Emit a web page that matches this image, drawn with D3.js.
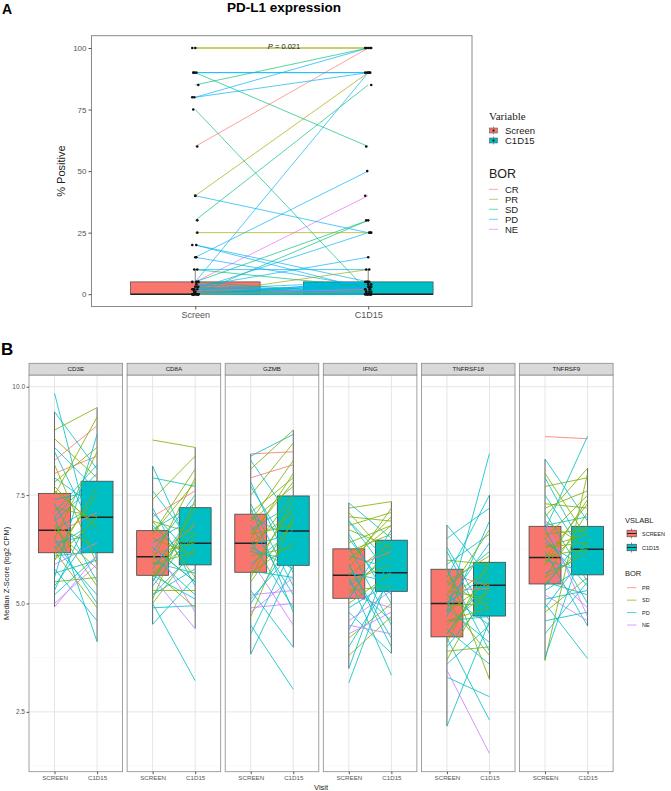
<!DOCTYPE html>
<html><head><meta charset="utf-8">
<script src="https://cdn.jsdelivr.net/npm/d3@7/dist/d3.min.js"></script>
<style>body{margin:0;background:#fff;}svg{display:block;font-family:"Liberation Sans",Arial,sans-serif;}</style>
</head><body>
<svg id="c" width="671" height="791"></svg>
<script>
// ---------------- Panel A data ----------------
const A_visits = ["Screen", "C1D15"];
const A_borLevels = ["CR", "PR", "SD", "PD", "NE"];
const A_yTicks = [0, 25, 50, 75, 100];
const A_screen = [100,100,85,80,60, 90,90,80,40,5, 90,30,75,15,5, 40,5,0,25,2, 20,20,15,3,10, 10,0,5,2,1, 0,0,3,0,0, 0,1,0,2,0, 0,0,0,0,0, 1,2,0,4,0, 3,0,1,0,2];
const A_c1d15  = [100,100,100,100,100, 90,90,90,90,90, 60,85,1,50,40, 25,30,30,25,25, 5,2,3,15,10, 3,10,0,5,0, 0,1,0,2,5, 0,0,3,1,4, 0,0,0,2,0, 1,0,5,0,2, 0,4,0,1,3];
const A_bor    = ["PR","PR","SD","PD","CR", "PD","PD","PD","PR","PD", "SD","SD","SD","PD","NE", "PD","SD","SD","PR","PD",
                  "PD","PD","PD","PD","PD", "SD","PR","SD","PD","NE", "PD","PD","PR","SD","PD", "PD","SD","PD","NE","PD",
                  "PD","SD","PD","PD","PD", "PD","SD","PD","PD","NE", "PD","SD","PD","PR","PD"];
const A_boxLow = [0, 0], A_boxQ1 = [0, 0], A_boxMed = [0, 0], A_boxQ3 = [5, 5], A_boxHigh = [10, 10];
const A_pText = "0.021";

// ---------------- Panel B data ----------------
const B_genes = ["CD3E", "CD8A", "GZMB", "IFNG", "TNFRSF18", "TNFRSF9"];
const B_visits = ["SCREEN", "C1D15"];
const B_borLevels = ["PR", "SD", "PD", "NE"];
const B_yTicks = [2.5, 5.0, 7.5, 10.0];
const B_minorTicks = [1.25, 3.75, 6.25, 8.75];
// box stats per gene: [low whisker, Q1, median, Q3, high whisker]
const B_boxScreen = [[4.92,6.17,6.69,7.54,9.42],[4.52,5.65,6.08,6.68,8.17],[3.83,5.72,6.39,7.06,8.45],[3.50,5.12,5.65,6.26,7.32],[2.17,4.23,5.00,5.79,6.81],[3.69,5.45,6.06,6.78,8.33]];
const B_boxC1D15  = [[4.12,6.17,6.99,7.82,9.52],[4.42,5.89,6.39,7.21,8.60],[3.99,5.88,6.67,7.48,9.00],[3.85,5.28,5.71,6.46,7.35],[3.25,4.71,5.42,5.95,7.50],[4.48,5.66,6.25,6.78,8.12]];

const B_CD3E_screen = [9.85,9.42,9.0,8.8,8.5,8.3,8.2,8.0,7.9,7.8,7.6,7.5,7.4,7.3,7.2,7.1,7.0,6.9,6.8,6.7,6.7,6.6,6.5,6.4,6.3,6.3,6.2,6.2,6.1,6.0,5.9,5.8,5.6,5.5,5.3,5.2,5.0,4.92, 7.7,7.0,6.5,6.0,5.7,8.6,6.8,5.4];
const B_CD3E_c1d15  = [6.0,8.1,9.52,7.9,6.5,9.1,5.9,8.4,7.2,8.6,6.8,9.3,7.6,5.5,7.0,8.2,4.12,7.8,6.3,7.3,5.8,7.1,8.5,6.6,6.9,5.2,7.5,4.9,6.2,7.7,6.4,4.6,8.9,5.6,7.4,6.1,5.9,6.1, 6.7,8.0,5.0,7.0,6.0,7.6,5.4,6.8];
const B_CD3E_bor    = ["PD","PD","SD","SD","PD","PR","SD","PR","PD","SD","SD","SD","PD","PD","SD","PD","PD","PD","SD","PD","SD","PR","SD","PD","PD","PD","SD","SD","PD","SD","NE","PD","PD","SD","PD","PD","NE","NE", "SD","PD","PD","SD","PD","PD","SD","PD"];

const B_CD8A_screen = [8.77,8.17,7.9,7.6,7.4,7.2,7.0,6.9,6.8,6.7,6.6,6.5,6.4,6.3,6.2,6.15,6.1,6.05,6.0,5.95,5.9,5.8,5.75,5.7,5.65,5.6,5.5,5.4,5.3,5.2,5.1,5.0,4.9,4.52,5.0,5.6, 7.1,6.6,6.3,5.9,5.5,6.9,5.2,6.4];
const B_CD8A_c1d15  = [8.6,6.0,7.7,6.3,8.4,5.4,7.6,6.6,5.9,7.3,8.1,6.1,7.0,5.5,7.5,6.4,5.2,6.8,7.9,5.7,6.2,7.1,4.9,6.5,5.1,6.9,7.2,6.7,5.3,5.8,7.4,3.22,4.95,5.6,6.3,4.42, 6.0,7.8,5.5,6.6,7.0,5.6,6.2,4.8];
const B_CD8A_bor    = ["SD","PD","PD","PD","SD","PD","PR","SD","PD","PD","SD","SD","PD","SD","PD","SD","PD","PR","SD","PD","SD","PD","SD","SD","PD","SD","SD","PD","SD","PD","SD","PD","PD","PD","SD","NE", "PD","SD","PD","SD","PD","SD","PD","NE"];

const B_GZMB_screen = [8.45,8.4,8.3,8.1,7.9,7.7,7.5,7.3,7.1,7.0,6.9,6.8,6.7,6.6,6.5,6.45,6.4,6.35,6.3,6.2,6.1,6.0,5.9,5.8,5.75,5.7,5.5,5.3,5.1,4.9,4.7,4.5,4.3,3.83,5.2, 7.8,6.9,6.2,5.6,5.0,7.2,4.8,6.6];
const B_GZMB_c1d15  = [8.5,8.9,6.9,9.0,8.2,6.1,8.7,5.4,7.9,6.5,7.7,5.2,7.3,6.8,8.0,4.9,7.1,6.6,5.8,7.5,6.3,4.5,6.7,7.2,5.6,6.4,6.9,3.99,6.2,5.0,7.0,3.02,6.3,5.9,5.3, 5.7,8.3,6.0,7.4,6.5,4.8,5.6,7.8];
const B_GZMB_bor    = ["PR","PD","PD","SD","PR","PD","SD","PD","SD","PD","SD","PD","PD","SD","SD","PD","SD","PD","PD","SD","SD","NE","PD","SD","PD","SD","SD","PD","PD","NE","SD","PD","PD","PD","NE", "PD","SD","PD","SD","PD","PD","NE","SD"];

const B_IFNG_screen = [7.32,7.2,7.1,7.0,6.9,6.8,6.7,6.5,6.4,6.3,6.2,6.1,6.0,5.9,5.8,5.7,5.65,5.6,5.5,5.4,5.3,5.2,5.1,5.0,4.8,4.6,4.4,4.2,4.0,3.8,3.5,3.17,4.5,5.9, 6.6,6.0,5.5,5.2,4.9,6.9,4.3,5.8];
const B_IFNG_c1d15  = [6.5,7.35,6.0,6.9,5.6,7.1,6.3,5.2,6.8,4.5,6.6,5.8,7.0,4.2,6.2,5.5,6.4,3.35,5.9,6.1,5.4,4.9,6.7,5.7,3.85,5.3,6.0,5.0,5.6,4.7,6.2,5.8,4.3,4.0, 5.0,6.8,4.6,6.3,5.5,5.9,4.8,7.2];
const B_IFNG_bor    = ["PD","SD","SD","SD","PD","SD","SD","PD","SD","PD","SD","PD","SD","PD","PR","PD","SD","PD","SD","PD","SD","NE","PD","SD","PD","NE","PD","SD","PD","SD","PD","PD","NE","PD", "PD","SD","PD","SD","PD","PD","NE","SD"];

const B_TNFRSF18_screen = [6.81,6.5,6.2,6.0,5.9,5.8,5.7,5.6,5.5,5.4,5.3,5.2,5.1,5.05,5.0,4.95,4.9,4.8,4.7,4.6,4.5,4.4,4.3,4.2,4.1,4.0,3.9,3.7,3.46,3.3,2.17,4.8,5.3, 6.3,5.5,5.0,4.6,4.3,5.8,3.6,5.2];
const B_TNFRSF18_c1d15  = [5.6,7.2,4.3,5.9,6.6,3.25,5.4,7.5,4.9,6.2,5.1,4.5,5.8,3.8,6.4,5.0,4.1,5.5,6.9,4.7,5.3,3.6,5.7,2.31,6.0,5.2,4.0,5.45,1.54,2.85,4.6,8.46,5.35, 4.6,6.1,5.7,4.9,5.6,3.9,4.5,6.7];
const B_TNFRSF18_bor    = ["PD","PD","PD","SD","PD","SD","PR","PD","SD","PD","SD","PD","SD","SD","PD","SD","PD","SD","PD","PD","SD","PD","SD","PD","SD","PD","SD","SD","NE","PD","PD","PD","PR", "PD","SD","PD","SD","PD","PD","PD","SD"];

const B_TNFRSF9_screen = [8.85,8.33,8.0,7.7,7.5,7.3,7.1,7.0,6.9,6.8,6.7,6.6,6.5,6.4,6.3,6.2,6.1,6.05,6.0,5.9,5.8,5.7,5.6,5.5,5.45,5.3,5.2,5.0,4.9,4.8,4.6,3.69,3.75,5.1,6.3,6.7, 7.9,7.2,6.5,5.9,5.4,4.3,6.9,5.6];
const B_TNFRSF9_c1d15  = [8.8,6.9,6.5,7.9,6.0,7.2,5.5,8.12,6.3,7.0,5.0,6.7,7.5,5.8,6.6,4.48,6.25,7.3,5.7,6.8,4.9,6.1,7.1,5.2,6.4,5.9,4.6,3.73,6.2,5.6,4.8,8.0,6.6,5.3,6.4,8.86, 6.1,7.6,5.4,7.4,6.7,5.5,4.7,6.2];
const B_TNFRSF9_bor    = ["PR","PD","SD","SD","PD","SD","PD","SD","SD","PD","PD","SD","SD","PD","SD","PD","SD","SD","PD","SD","NE","PD","SD","PD","SD","PD","NE","PD","PD","SD","PD","SD","PD","PD","SD","PD", "PD","SD","PD","SD","PD","PD","NE","SD"];

const B_lines = {
  CD3E: [B_CD3E_screen, B_CD3E_c1d15, B_CD3E_bor],
  CD8A: [B_CD8A_screen, B_CD8A_c1d15, B_CD8A_bor],
  GZMB: [B_GZMB_screen, B_GZMB_c1d15, B_GZMB_bor],
  IFNG: [B_IFNG_screen, B_IFNG_c1d15, B_IFNG_bor],
  TNFRSF18: [B_TNFRSF18_screen, B_TNFRSF18_c1d15, B_TNFRSF18_bor],
  TNFRSF9: [B_TNFRSF9_screen, B_TNFRSF9_c1d15, B_TNFRSF9_bor]
};

// ---------------- Drawing ----------------
const svg = d3.select("#c");
const boxFill = ["#F8766D", "#00BFC4"];
const A_col = d3.scaleOrdinal().domain(A_borLevels).range(["#F8766D","#A3A500","#00BF7D","#00B0F6","#E76BF3"]);
const B_col = d3.scaleOrdinal().domain(B_borLevels).range(["#F8766D","#7CAE00","#00BFC4","#C77CFF"]);

// ===== Panel A =====
const A = {l: 91.5, r: 472, t: 35.7, b: 306.5};
const ax = d3.scalePoint().domain(A_visits).range([A.l, A.r]).padding(0.6);
const ay = d3.scaleLinear().domain([-5, 105]).range([A.b, A.t]);
const aStep = ax.step();
const gA = svg.append("g");

svg.append("text").attr("x", 2).attr("y", 14).attr("font-size", 14).attr("font-weight", "bold").text("A");
svg.append("text").attr("x", 284).attr("y", 12).attr("text-anchor", "middle").attr("font-size", 13.5).attr("font-weight", "bold").text("PD-L1 expression");

gA.append("rect").attr("x", A.l).attr("y", A.t).attr("width", A.r - A.l).attr("height", A.b - A.t)
  .attr("fill", "none").attr("stroke", "#8a8a8a").attr("stroke-width", 1);

// y axis
const yAxA = gA.append("g").attr("transform", `translate(${A.l},0)`)
  .call(d3.axisLeft(ay).tickValues(A_yTicks).tickSize(3).tickPadding(2));
yAxA.select(".domain").remove();
yAxA.selectAll("line").attr("stroke", "#555");
yAxA.selectAll("text").attr("font-size", 8).attr("fill", "#555").attr("font-family", "Liberation Sans, Arial");
// x axis
const xAxA = gA.append("g").attr("transform", `translate(0,${A.b})`)
  .call(d3.axisBottom(ax).tickSize(3).tickPadding(2));
xAxA.select(".domain").remove();
xAxA.selectAll("line").attr("stroke", "#555");
xAxA.selectAll("text").attr("font-size", 9).attr("fill", "#555").attr("font-family", "Liberation Sans, Arial");

gA.append("text").attr("transform", `translate(65,${(A.t + A.b) / 2}) rotate(-90)`)
  .attr("text-anchor", "middle").attr("font-size", 11).attr("fill", "#222").text("% Positive");

// boxes A
A_visits.forEach((v, i) => {
  const cx = ax(v), w = aStep * 0.75;
  gA.append("line").attr("x1", cx).attr("x2", cx).attr("y1", ay(A_boxQ3[i])).attr("y2", ay(A_boxHigh[i])).attr("stroke", "#333").attr("stroke-width", 0.6);
  gA.append("line").attr("x1", cx).attr("x2", cx).attr("y1", ay(A_boxQ1[i])).attr("y2", ay(A_boxLow[i])).attr("stroke", "#333").attr("stroke-width", 0.6);
  gA.append("rect").attr("x", cx - w / 2).attr("y", ay(A_boxQ3[i])).attr("width", w)
    .attr("height", ay(A_boxQ1[i]) - ay(A_boxQ3[i])).attr("fill", boxFill[i]).attr("stroke", "#333").attr("stroke-width", 0.6);
  gA.append("line").attr("x1", cx - w / 2).attr("x2", cx + w / 2).attr("y1", ay(A_boxMed[i])).attr("y2", ay(A_boxMed[i])).attr("stroke", "#222").attr("stroke-width", 1.4);
});

// lines A
A_screen.forEach((s, i) => {
  gA.append("line").attr("x1", ax("Screen")).attr("y1", ay(s)).attr("x2", ax("C1D15")).attr("y2", ay(A_c1d15[i]))
    .attr("stroke", A_col(A_bor[i])).attr("stroke-width", 0.8).attr("stroke-opacity", 0.85);
});
// points A (small deterministic horizontal jitter)
A_screen.forEach((s, i) => {
  const j = ((i * 3) % 7 - 3) * 1.0;
  gA.append("circle").attr("cx", ax("Screen") + j).attr("cy", ay(s)).attr("r", 1.3).attr("fill", "#111");
  const j2 = ((i * 5) % 7 - 3) * 1.0;
  gA.append("circle").attr("cx", ax("C1D15") + j2).attr("cy", ay(A_c1d15[i])).attr("r", 1.3).attr("fill", "#111");
});

// p value
const pt = gA.append("text").attr("x", 284).attr("y", 49).attr("text-anchor", "middle").attr("font-size", 7.5).attr("fill", "#222");
pt.append("tspan").attr("font-style", "italic").text("P");
pt.append("tspan").text(" = " + A_pText);

// legend A
const lgA = svg.append("g");
lgA.append("text").attr("x", 489).attr("y", 119.5).attr("font-size", 11).attr("font-family", "Liberation Serif, serif").attr("fill", "#222").text("Variable");
A_visits.forEach((v, i) => {
  const y = 130.5 + i * 10;
  lgA.append("line").attr("x1", 493.5).attr("x2", 493.5).attr("y1", y - 4).attr("y2", y + 4).attr("stroke", "#444").attr("stroke-width", 0.5);
  lgA.append("rect").attr("x", 489.5).attr("y", y - 2.5).attr("width", 8).attr("height", 5).attr("fill", boxFill[i]).attr("stroke", "#444").attr("stroke-width", 0.5);
  lgA.append("circle").attr("cx", 493.5).attr("cy", y).attr("r", 1.1).attr("fill", "#111");
  lgA.append("text").attr("x", 505).attr("y", y + 3.5).attr("font-size", 9.5).attr("fill", "#222").text(v);
});
lgA.append("text").attr("x", 489).attr("y", 178).attr("font-size", 12.5).attr("fill", "#222").text("BOR");
A_borLevels.forEach((b, i) => {
  const y = 189.3 + i * 10;
  lgA.append("line").attr("x1", 489).attr("x2", 498).attr("y1", y).attr("y2", y).attr("stroke", A_col(b)).attr("stroke-width", 1).attr("stroke-opacity", 0.6);
  lgA.append("text").attr("x", 505).attr("y", y + 3.5).attr("font-size", 9.5).attr("fill", "#222").text(b);
});

// ===== Panel B =====
svg.append("text").attr("x", 1).attr("y", 354.5).attr("font-size", 17).attr("font-weight", "bold").text("B");
const B = {t: 375, b: 771.7, l0: 29, w: 93.6, step: 98.1, stripT: 363.3};
const by = d3.scaleLinear().domain([1.12, 10.27]).range([B.b, B.t]);

B_genes.forEach((g, gi) => {
  const left = B.l0 + gi * B.step, right = left + B.w;
  const bx = d3.scalePoint().domain(B_visits).range([left, right]).padding(0.6);
  const st = bx.step();
  const gB = svg.append("g");
  // grid
  B_minorTicks.forEach(t => gB.append("line").attr("x1", left).attr("x2", right).attr("y1", by(t)).attr("y2", by(t)).attr("stroke", "#f3f3f3").attr("stroke-width", 0.6));
  B_yTicks.forEach(t => gB.append("line").attr("x1", left).attr("x2", right).attr("y1", by(t)).attr("y2", by(t)).attr("stroke", "#e6e6e6").attr("stroke-width", 1));
  B_visits.forEach(v => gB.append("line").attr("x1", bx(v)).attr("x2", bx(v)).attr("y1", B.t).attr("y2", B.b).attr("stroke", "#e6e6e6").attr("stroke-width", 1));
  // boxes
  [B_boxScreen[gi], B_boxC1D15[gi]].forEach((st5, i) => {
    const cx = bx(B_visits[i]), w = st * 0.75;
    gB.append("line").attr("x1", cx).attr("x2", cx).attr("y1", by(st5[3])).attr("y2", by(st5[4])).attr("stroke", "#444").attr("stroke-width", 0.8);
    gB.append("line").attr("x1", cx).attr("x2", cx).attr("y1", by(st5[1])).attr("y2", by(st5[0])).attr("stroke", "#444").attr("stroke-width", 0.8);
    gB.append("rect").attr("x", cx - w / 2).attr("y", by(st5[3])).attr("width", w).attr("height", by(st5[1]) - by(st5[3]))
      .attr("fill", boxFill[i]).attr("stroke", "#444").attr("stroke-width", 0.8);
    gB.append("line").attr("x1", cx - w / 2).attr("x2", cx + w / 2).attr("y1", by(st5[2])).attr("y2", by(st5[2])).attr("stroke", "#222").attr("stroke-width", 1.5);
  });
  // patient lines
  const [s, c, b] = B_lines[g];
  s.forEach((v, i) => {
    gB.append("line").attr("x1", bx("SCREEN")).attr("y1", by(v)).attr("x2", bx("C1D15")).attr("y2", by(c[i]))
      .attr("stroke", B_col(b[i])).attr("stroke-width", 0.9).attr("stroke-opacity", 0.9);
  });
  // panel border
  gB.append("rect").attr("x", left).attr("y", B.t).attr("width", B.w).attr("height", B.b - B.t).attr("fill", "none").attr("stroke", "#8a8a8a").attr("stroke-width", 0.8);
  // strip
  gB.append("rect").attr("x", left).attr("y", B.stripT).attr("width", B.w).attr("height", B.t - B.stripT).attr("fill", "#d9d9d9").attr("stroke", "#8a8a8a").attr("stroke-width", 0.8);
  gB.append("text").attr("x", (left + right) / 2).attr("y", B.t - 3.6).attr("text-anchor", "middle").attr("font-size", 6.2).attr("fill", "#1a1a1a").text(g);
  // x axis
  const xa = gB.append("g").attr("transform", `translate(0,${B.b})`).call(d3.axisBottom(bx).tickSize(2.5).tickPadding(1.5));
  xa.select(".domain").remove();
  xa.selectAll("line").attr("stroke", "#555");
  xa.selectAll("text").attr("font-size", 6.2).attr("fill", "#555").attr("font-family", "Liberation Sans, Arial");
  if (gi === 0) {
    const ya = gB.append("g").attr("transform", `translate(${left},0)`).call(d3.axisLeft(by).tickValues(B_yTicks).tickFormat(d3.format(".1f")).tickSize(2.5).tickPadding(1.5));
    ya.select(".domain").remove();
    ya.selectAll("line").attr("stroke", "#555");
    ya.selectAll("text").attr("font-size", 6.5).attr("fill", "#555").attr("font-family", "Liberation Sans, Arial");
  }
});
svg.append("text").attr("transform", `translate(9,${(B.t + B.b) / 2}) rotate(-90)`).attr("text-anchor", "middle").attr("font-size", 7.5).attr("fill", "#222").text("Median Z-Score (log2 CPM)");
svg.append("text").attr("x", (B.l0 + B.l0 + 5 * B.step + B.w) / 2).attr("y", 789.5).attr("text-anchor", "middle").attr("font-size", 7.5).attr("fill", "#222").text("Visit");

// legend B
const lgB = svg.append("g");
lgB.append("text").attr("x", 625).attr("y", 522.5).attr("font-size", 7.5).attr("fill", "#222").text("VSLABL");
B_visits.forEach((v, i) => {
  const y = 533.5 + i * 14;
  lgB.append("line").attr("x1", 631.5).attr("x2", 631.5).attr("y1", y - 5).attr("y2", y + 5).attr("stroke", "#444").attr("stroke-width", 0.6);
  lgB.append("rect").attr("x", 627).attr("y", y - 3.3).attr("width", 9.5).attr("height", 6.6).attr("fill", boxFill[i]).attr("stroke", "#444").attr("stroke-width", 0.6);
  lgB.append("line").attr("x1", 627).attr("x2", 636.5).attr("y1", y).attr("y2", y).attr("stroke", "#222").attr("stroke-width", 1);
  lgB.append("text").attr("x", 642).attr("y", y + 2).attr("font-size", 5.5).attr("fill", "#222").text(v);
});
lgB.append("text").attr("x", 625).attr("y", 576).attr("font-size", 7.5).attr("fill", "#222").text("BOR");
B_borLevels.forEach((b, i) => {
  const y = 587.7 + i * 12.45;
  lgB.append("line").attr("x1", 627).attr("x2", 636.5).attr("y1", y).attr("y2", y).attr("stroke", B_col(b)).attr("stroke-width", 1).attr("stroke-opacity", 0.7);
  lgB.append("text").attr("x", 642).attr("y", y + 2).attr("font-size", 5.5).attr("fill", "#222").text(b);
});
</script>
</body></html>
